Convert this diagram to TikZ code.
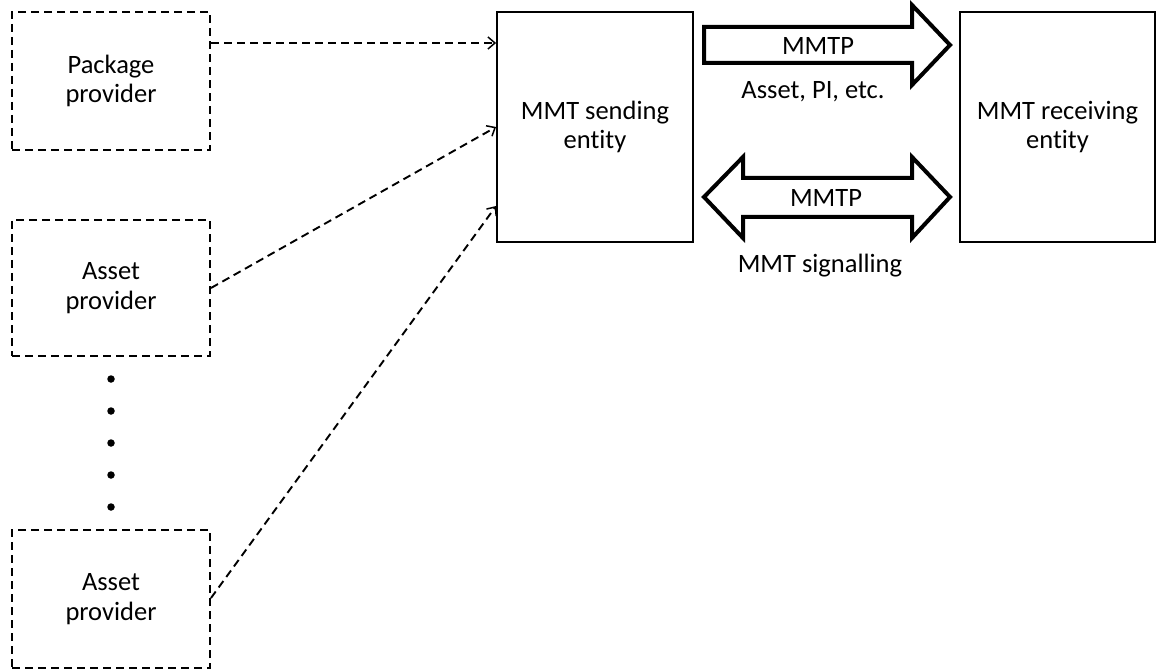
\documentclass[tikz,border=0pt]{standalone}
\usepackage{fontspec}
\setmainfont{Carlito}[Ligatures=NoCommon]
\usetikzlibrary{arrows.meta}
\begin{document}
\begin{tikzpicture}[x=1pt,y=-1pt,
  every node/.style={font=\fontsize{26.5}{29.5}\selectfont, align=center, inner sep=0pt},
  provbox/.style={draw, line width=2pt, dash pattern=on 8pt off 5pt, minimum width=198pt},
  entbox/.style={draw, line width=1.8pt, minimum width=196pt, minimum height=230pt},
  feed/.style={line width=1.9pt, dash pattern=on 8pt off 5pt, -{Straight Barb[length=7pt,width=12pt,line width=1.5pt]}},
  blockarrow/.style={draw, fill=white, line width=4pt, miter limit=10},
  dot/.style={circle, fill=black, minimum size=7.5pt}]
\useasboundingbox (0,0) rectangle (1162,671);

\node[provbox, minimum height=138pt] (pkg) at (111,81) {Package\\provider};
\node[provbox, minimum height=136pt] (ast1) at (111,288) {Asset\\provider};
\node[provbox, minimum height=138pt] (ast2) at (111,599) {Asset\\provider};

\foreach \i/\yy in {1/379,2/411,3/443,4/475,5/507}
  \node[dot] (d\i) at (111,\yy) {};

\node[entbox] (send) at (595,127) {MMT sending\\entity};
\node[entbox, minimum width=195pt] (recv) at (1057.5,127) {MMT receiving\\entity};

\draw[feed] ([yshift=38pt]pkg.east) -- ([yshift=84pt]send.west);
\draw[feed] (ast1.east) -- (send.west);
\draw[feed] ([yshift=1pt]ast2.east) -- ([yshift=-79pt]send.west);

\draw[blockarrow] (704,27) -- (912,27) -- (912,5) -- (950,45) -- (912,85) -- (912,63) -- (704,63) -- cycle;
\draw[blockarrow] (704,197) -- (743,157) -- (743,178) -- (912,178) -- (912,157) -- (950,197) -- (912,238) -- (912,217) -- (743,217) -- (743,238) -- cycle;

\node (p1) at (818,46) {MMTP};
\node (l1) at (813,92) {Asset, PI, etc.};
\node (p2) at (826,198) {MMTP};
\node (l2) at (820,266) {MMT signalling};
\end{tikzpicture}
\end{document}
